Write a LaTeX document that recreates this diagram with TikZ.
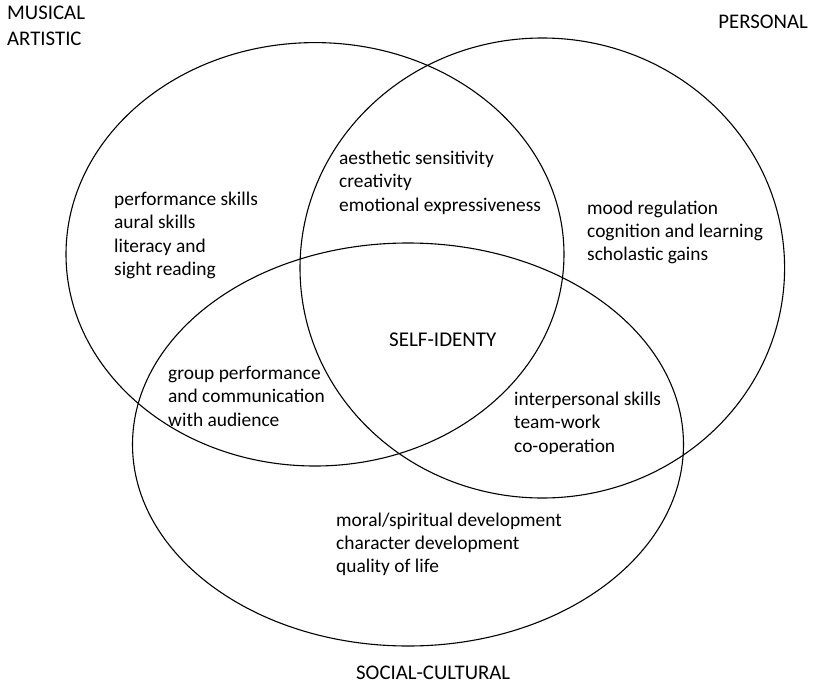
\documentclass[tikz,border=0pt]{standalone}
\usepackage{fontspec}
\setmainfont{Carlito}
\begin{document}
\begin{tikzpicture}[x=1pt,y=-1pt,
  venn/.style={draw=black,line width=1.1pt},
  body/.style={font=\fontsize{19.4}{23.3}\selectfont,inner sep=0pt,anchor=base west,text=black},
  head/.style={font=\fontsize{20.8}{26}\selectfont,inner sep=0pt,text=black}]
\useasboundingbox[fill=white] (0,0) rectangle (815,683);
% headings
\node[head,anchor=base west] (musical) at (7,19) {\begin{tabular}[t]{@{}l@{}}MUSICAL\\ARTISTIC\end{tabular}};
\node[head,anchor=base east] (personal) at (808,28) {PERSONAL};
\node[head,anchor=base west] (social) at (356,679) {SOCIAL-CULTURAL};
% region texts
\node[body] (musictxt) at (114,205.5) {\begin{tabular}[t]{@{}l@{}}performance skills\\aural skills\\literacy and\\sight reading\end{tabular}};
\node[body] (aesthetic) at (339,164.5) {\begin{tabular}[t]{@{}l@{}}aesthetic sensitivity\\creativity\\emotional expressiveness\end{tabular}};
\node[body] (mood) at (587,214) {\begin{tabular}[t]{@{}l@{}}mood regulation\\cognition and learning\\scholastic gains\end{tabular}};
\node[head,anchor=base west,font=\fontsize{21}{26}\selectfont] (self) at (389,346) {SELF-IDENTY};
\node[body] (group) at (168,379.5) {\begin{tabular}[t]{@{}l@{}}group performance\\and communication\\with audience\end{tabular}};
\begin{scope}
\clip (500,380) rectangle (720,453.5);
\node[body] (inter) at (514,405.5) {\begin{tabular}[t]{@{}l@{}}interpersonal skills\\team-work\\co-operation\end{tabular}};
\end{scope}
\node[body] (moral) at (336,526) {\begin{tabular}[t]{@{}l@{}}moral/spiritual development\\character development\\quality of life\end{tabular}};
% circles
\draw[venn] (315,254.3) ellipse [x radius=249pt, y radius=211.7pt];
\draw[venn] (542.3,268) ellipse [x radius=242.3pt, y radius=230pt];
\draw[venn] (408,444.5) ellipse [x radius=275.5pt, y radius=201.5pt];
\end{tikzpicture}
\end{document}
